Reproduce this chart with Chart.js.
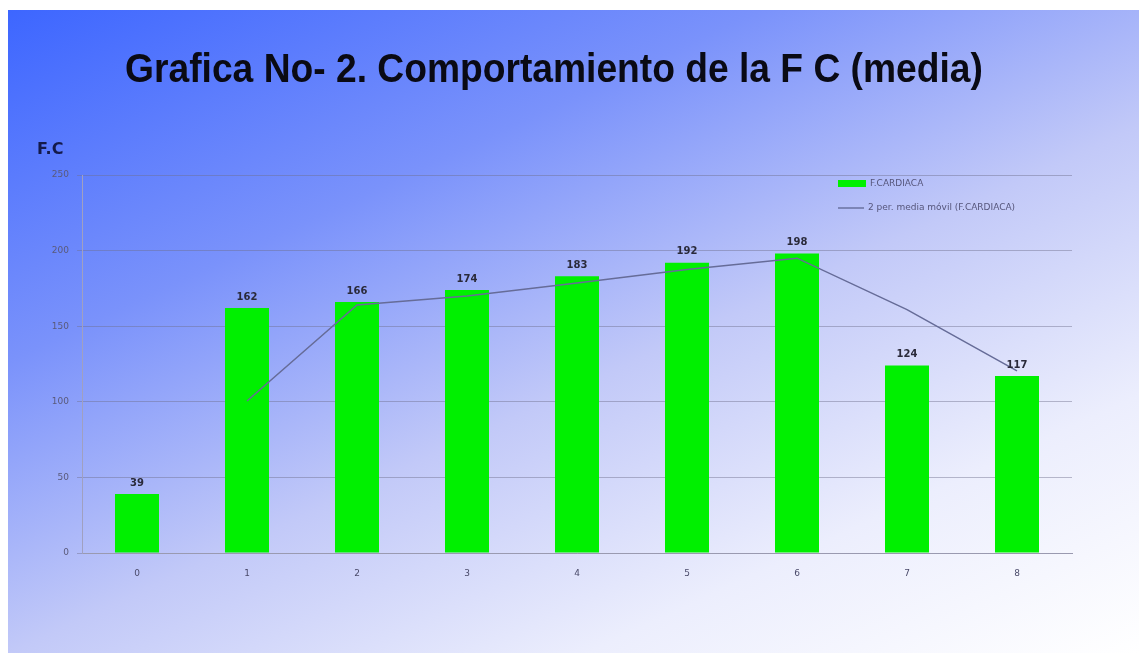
<!DOCTYPE html>
<html>
<head>
<meta charset="utf-8">
<script src="https://cdn.jsdelivr.net/npm/chart.js@4.4.1/dist/chart.umd.min.js"></script>
<style>
  html, body { margin: 0; padding: 0; background: #fff; }
  #bg {
    position: absolute; left: 8px; top: 10px; width: 1131px; height: 643px;
    background: linear-gradient(155deg, #3d66ff 0%, #7a92fb 30%, #c2c9f8 55%, #eceefd 78%, #ffffff 100%);
  }
  #wrap { position: absolute; left: 0; top: 0; width: 1140px; height: 655px; }
</style>
</head>
<body>
<div id="bg"></div>
<div id="wrap"><canvas id="fcChart"></canvas></div>
<script>
// ---- datos ----
const categorias = ["0", "1", "2", "3", "4", "5", "6", "7", "8"];
const fCardiaca = [39, 162, 166, 174, 183, 192, 198, 124, 117];
// media movil de 2 periodos (sin valor en la primera categoria)
const mediaMovil = [null, 100.5, 164, 170, 178.5, 187.5, 195, 161, 120.5];
const yTicks = [0, 50, 100, 150, 200, 250];

const tituloTxt = "Grafica No- 2. Comportamiento de la F C (media)";
const legendaBarra = "F.CARDIACA";
const legendaLinea = "2 per. media móvil (F.CARDIACA)";

// etiquetas encima de cada barra
const etiquetasPlugin = {
  id: "etiquetas",
  afterDatasetsDraw(chart) {
    const ctx = chart.ctx;
    const meta = chart.getDatasetMeta(1);
    ctx.save();
    ctx.font = "bold 10px 'DejaVu Sans'";
    ctx.fillStyle = "#2a2a3a";
    ctx.textAlign = "center";
    ctx.textBaseline = "bottom";
    meta.data.forEach((bar, i) => {
      ctx.fillText(String(fCardiaca[i]), bar.x, bar.y - 6);
    });
    ctx.restore();
  }
};

// titulo (algo condensado), leyenda dentro del area y "F.C"
const extrasPlugin = {
  id: "extras",
  afterDraw(chart) {
    const ctx = chart.ctx;
    const a = chart.chartArea;
    ctx.save();
    // titulo: no hay fuente "narrow", se comprime un poco en horizontal
    ctx.save();
    ctx.translate(554, 71);
    ctx.scale(0.93, 1);
    ctx.font = "bold 40px 'Liberation Sans'";
    ctx.fillStyle = "#0a0a14";
    ctx.textAlign = "center";
    ctx.textBaseline = "middle";
    ctx.fillText(tituloTxt, 0, 0);
    ctx.restore();

    // F.C
    ctx.font = "bold 16px 'DejaVu Sans'";
    ctx.fillStyle = "#141a4a";
    ctx.textAlign = "left";
    ctx.textBaseline = "middle";
    ctx.fillText("F.C", a.left - 45, a.top - 25);

    // leyenda
    const lx = a.right - 234;
    ctx.font = "9px 'DejaVu Sans'";
    ctx.fillStyle = "#00f000";
    ctx.fillRect(lx, a.top + 5, 28, 7);
    ctx.fillStyle = "#55557a";
    ctx.fillText(legendaBarra, lx + 32, a.top + 9);
    ctx.strokeStyle = "#6a72a0";
    ctx.lineWidth = 1.5;
    ctx.beginPath();
    ctx.moveTo(lx, a.top + 33);
    ctx.lineTo(lx + 26, a.top + 33);
    ctx.stroke();
    ctx.fillText(legendaLinea, lx + 30, a.top + 33);
    ctx.restore();
  }
};

new Chart(document.getElementById("fcChart"), {
  data: {
    labels: categorias,
    datasets: [
      {
        type: "line",
        label: legendaLinea,
        data: mediaMovil,
        borderColor: "#666c98",
        borderWidth: 1.5,
        pointRadius: 0,
        tension: 0,
        order: 0
      },
      {
        type: "bar",
        label: legendaBarra,
        data: fCardiaca,
        backgroundColor: "#00f000",
        borderWidth: 0,
        barPercentage: 0.8,
        categoryPercentage: 0.5,
        order: 1
      }
    ]
  },
  options: {
    responsive: true,
    maintainAspectRatio: false,
    animation: false,
    layout: { padding: { left: 36, right: 68, top: 175, bottom: 67 } },
    plugins: {
      legend: { display: false },
      tooltip: { enabled: false },
      title: { display: false }
    },
    scales: {
      x: {
        grid: { display: false },
        border: { display: true, color: "#9a9ab0" },
        ticks: { color: "#4a4a6a", font: { size: 9, family: "'DejaVu Sans'" }, padding: 7 },
        afterFit(scale) { scale.height = 35; }
      },
      y: {
        min: 0,
        max: 250,
        afterBuildTicks(scale) { scale.ticks = yTicks.map(v => ({ value: v })); },
        grid: { color: "rgba(110,110,140,0.45)", tickLength: 5 },
        border: { display: true, color: "#a0a0c0" },
        ticks: { color: "#5a5a7a", font: { size: 9, family: "'DejaVu Sans'" }, padding: 8 },
        afterFit(scale) { scale.width = 46; }
      }
    }
  },
  plugins: [etiquetasPlugin, extrasPlugin]
});
</script>
</body>
</html>
